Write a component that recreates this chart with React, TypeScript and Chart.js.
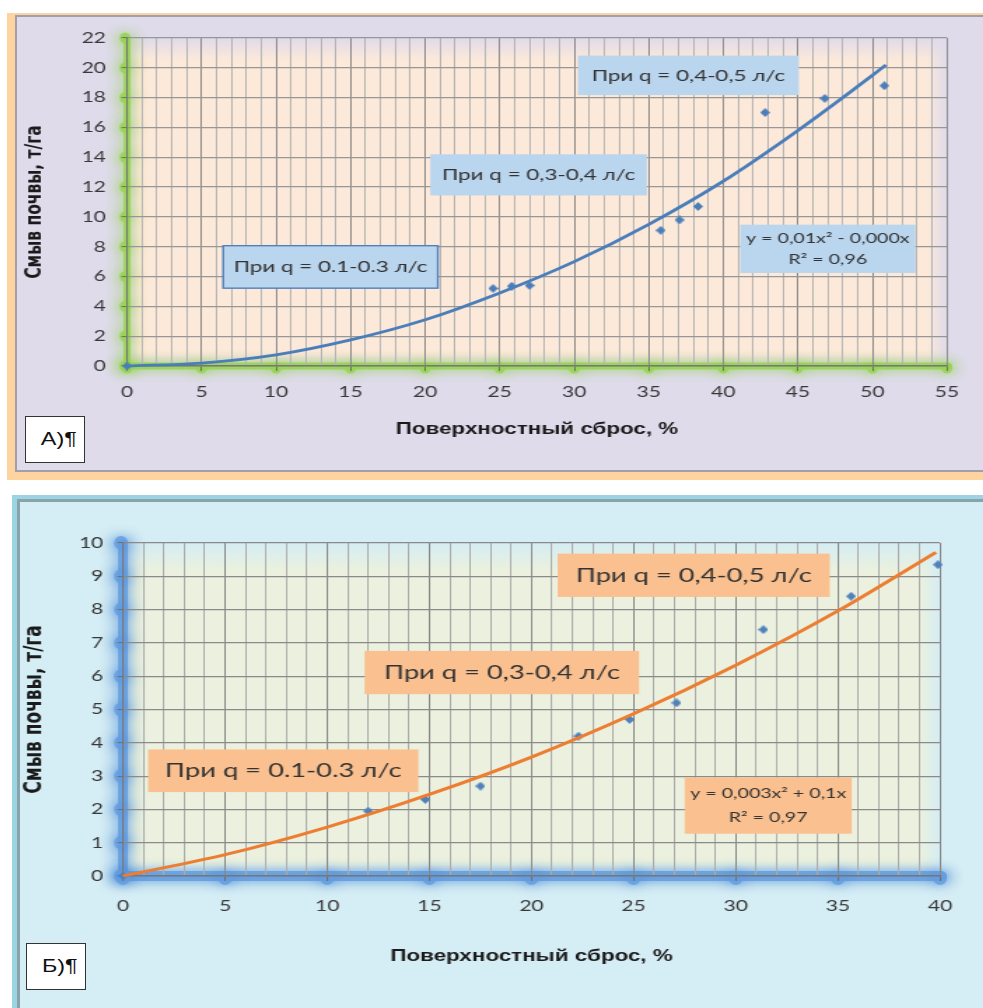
import React, { useEffect, useRef } from 'react';
import { Chart, registerables } from 'chart.js';

Chart.register(...registerables);

// horizontal stretch of the reference picture
const S = 1.4;

// ---------- Chart А (top) ----------
const A_POINTS_X = [0, 24.55, 25.8, 27.0, 35.8, 37.05, 38.3, 42.8, 46.8, 50.8];
const A_POINTS_Y = [0, 5.2, 5.35, 5.4, 9.1, 9.8, 10.7, 17.0, 17.95, 18.8];
const A_TREND_X = [0, 5, 10, 15, 20, 25, 30, 35, 40, 45, 50, 50.9];
const A_TREND_Y = [0, 0.2, 0.75, 1.75, 3.1, 4.9, 7.0, 9.5, 12.4, 15.8, 19.5, 20.2];
const A_X_LABELS = ['0', '5', '10', '15', '20', '25', '30', '35', '40', '45', '50', '55'];
const A_Y_LABELS = ['0', '2', '4', '6', '8', '10', '12', '14', '16', '18', '20', '22'];
const A_NOTES = ['При q = 0.1-0.3 л/с', 'При q = 0,3-0,4 л/с', 'При q = 0,4-0,5 л/с'];
const A_EQUATION = ['y = 0,01x² - 0,000x', 'R² = 0,96'];

// ---------- Chart Б (bottom) ----------
const B_POINTS_X = [0, 12.0, 14.8, 17.5, 22.3, 24.8, 27.1, 31.35, 35.65, 39.9];
const B_POINTS_Y = [0, 1.95, 2.3, 2.7, 4.2, 4.7, 5.2, 7.4, 8.4, 9.35];
const B_TREND_X = [0, 5, 10, 15, 20, 25, 30, 35, 39.8];
const B_TREND_Y = [0, 0.64, 1.47, 2.45, 3.57, 4.87, 6.33, 7.96, 9.72];
const B_X_LABELS = ['0', '5', '10', '15', '20', '25', '30', '35', '40'];
const B_Y_LABELS = ['0', '1', '2', '3', '4', '5', '6', '7', '8', '9', '10'];
const B_NOTES = ['При q = 0.1-0.3 л/с', 'При q = 0,3-0,4 л/с', 'При q = 0,4-0,5 л/с'];
const B_EQUATION = ['y = 0,003x² + 0,1x', 'R² = 0,97'];

const X_TITLE = 'Поверхностный сброс, %';
const Y_TITLE = 'Смыв почвы, т/га';

type Note = {
  x1: number; x2: number; y1: number; y2: number;
  lines: string[]; size: number; gap: number; fill: string; stroke?: string;
};

type PanelCfg = {
  W: number; H: number; yW: number; xH: number; padR: number; padT: number;
  xMax: number; yMax: number; yStep: number; xMajor: number;
  xLabels: string[]; yLabels: string[];
  px: number[]; py: number[]; tx: number[]; ty: number[];
  trendColor: string; trendWidth: number; pointColor: string; trendOnTop: boolean;
  plotColor: string; bg: string; fades: [number, number, number, number];
  glow: string; glowCore: string; glowW: number; glowBlur: number; blobR: number;
  gridMajor: string; gridMinor: string; gridH: string;
  tickSize: number; yTickPad: number; xTickPad: number; tickLenY: number; tickLenX: number;
  xTitleSize: number; xTitlePad: number; yTitleSize: number; yTitlePad: number;
  notes: Note[];
};

const TOP: PanelCfg = {
  W: 690, H: 453, yW: 110 / S, xH: 104, padR: 36 / S, padT: 21,
  xMax: 55, yMax: 22, yStep: 2, xMajor: 5,
  xLabels: A_X_LABELS, yLabels: A_Y_LABELS,
  px: A_POINTS_X, py: A_POINTS_Y, tx: A_TREND_X, ty: A_TREND_Y,
  trendColor: '#4a7ebb', trendWidth: 2.8, pointColor: '#4a7ebb', trendOnTop: false,
  plotColor: '#fde9d9', bg: '223,219,235', fades: [22, 20, 12, 14],
  glow: '#8ccf45', glowCore: 'rgba(150,212,80,0.85)', glowW: 7, glowBlur: 12, blobR: 5.5,
  gridMajor: '#8a8a8a', gridMinor: '#b4b4b4', gridH: '#979797',
  tickSize: 15, yTickPad: 11, xTickPad: 12, tickLenY: 4, tickLenX: 5,
  xTitleSize: 16, xTitlePad: 30.4, yTitleSize: 15.5, yTitlePad: 3.9,
  notes: [
    { x1: 6.45, x2: 20.85, y1: 8.07, y2: 5.22, lines: [A_NOTES[0]], size: 16, gap: 0, fill: '#bad5ee', stroke: '#4f81bd' },
    { x1: 20.34, x2: 34.87, y1: 14.2, y2: 11.44, lines: [A_NOTES[1]], size: 16, gap: 0, fill: '#bad5ee' },
    { x1: 30.24, x2: 45.06, y1: 20.82, y2: 18.17, lines: [A_NOTES[2]], size: 16, gap: 0, fill: '#bad5ee' },
    { x1: 41.13, x2: 52.88, y1: 9.48, y2: 6.24, lines: A_EQUATION, size: 14, gap: 21, fill: '#bad5ee' },
  ],
};

const BOTTOM: PanelCfg = {
  W: 688, H: 506, yW: 103 / S, xH: 132, padR: 688 - 920 / S, padT: 41,
  xMax: 40, yMax: 10, yStep: 1, xMajor: 5,
  xLabels: B_X_LABELS, yLabels: B_Y_LABELS,
  px: B_POINTS_X, py: B_POINTS_Y, tx: B_TREND_X, ty: B_TREND_Y,
  trendColor: '#ed7d31', trendWidth: 3, pointColor: '#4f81bd', trendOnTop: true,
  plotColor: '#ebf1de', bg: '213,237,244', fades: [28, 20, 12, 14],
  glow: '#4a8ad6', glowCore: 'rgba(100,158,225,0.85)', glowW: 10, glowBlur: 12, blobR: 7,
  gridMajor: '#878787', gridMinor: '#ababab', gridH: '#8a8a8a',
  tickSize: 15, yTickPad: 10, xTickPad: 16, tickLenY: 4, tickLenX: 5,
  xTitleSize: 16, xTitlePad: 41.4, yTitleSize: 17, yTitlePad: 0.5,
  notes: [
    { x1: 1.23, x2: 14.46, y1: 3.8, y2: 2.52, lines: [B_NOTES[0]], size: 19.5, gap: 0, fill: '#fac090' },
    { x1: 11.83, x2: 25.27, y1: 6.76, y2: 5.46, lines: [B_NOTES[1]], size: 19.5, gap: 0, fill: '#fac090' },
    { x1: 21.28, x2: 34.6, y1: 9.68, y2: 8.38, lines: [B_NOTES[2]], size: 19.5, gap: 0, fill: '#fac090' },
    { x1: 27.5, x2: 35.68, y1: 2.96, y2: 1.27, lines: B_EQUATION, size: 14, gap: 24, fill: '#fac090' },
  ],
};

function makeDiamond(w: number, h: number, color: string) {
  const c = document.createElement('canvas');
  c.width = w;
  c.height = h;
  const g = c.getContext('2d')!;
  g.fillStyle = color;
  g.beginPath();
  g.moveTo(w / 2, 0);
  g.lineTo(w, h / 2);
  g.lineTo(w / 2, h);
  g.lineTo(0, h / 2);
  g.closePath();
  g.fill();
  return c;
}

function Panel({ cfg, left, top }: { cfg: PanelCfg; left: number; top: number }) {
  const ref = useRef<HTMLCanvasElement | null>(null);

  useEffect(() => {
    const canvas = ref.current;
    if (!canvas) return;
    const diamond = makeDiamond(7, 9, cfg.pointColor);

    const decor = {
      id: 'decor',
      beforeDraw(chart: any) {
        const { ctx, chartArea: a, scales } = chart;
        const w = a.right - a.left;
        const h = a.bottom - a.top;
        // plot background with soft edges
        ctx.save();
        ctx.fillStyle = cfg.plotColor;
        ctx.fillRect(a.left, a.top, w, h);
        const edge = (x0: number, y0: number, x1: number, y1: number, rx: number, ry: number, rw: number, rh: number) => {
          const g = ctx.createLinearGradient(x0, y0, x1, y1);
          g.addColorStop(0, `rgba(${cfg.bg},1)`);
          g.addColorStop(1, `rgba(${cfg.bg},0)`);
          ctx.fillStyle = g;
          ctx.fillRect(rx, ry, rw, rh);
        };
        const [fT, fR, fL, fB] = cfg.fades;
        edge(a.left, a.top, a.left, a.top + fT, a.left, a.top, w, fT);
        edge(a.right, a.top, a.right - fR / S, a.top, a.right - fR / S, a.top, fR / S, h);
        edge(a.left, a.top, a.left + fL / S, a.top, a.left, a.top, fL / S, h);
        edge(a.left, a.bottom, a.left, a.bottom - fB, a.left, a.bottom - fB, w, fB);
        ctx.restore();
        // glowing axes
        ctx.save();
        ctx.lineCap = 'round';
        ctx.strokeStyle = cfg.glowCore;
        ctx.shadowColor = cfg.glow;
        ctx.shadowBlur = cfg.glowBlur;
        ctx.lineWidth = cfg.glowW / S;
        ctx.beginPath();
        ctx.moveTo(a.left, a.top);
        ctx.lineTo(a.left, a.bottom);
        ctx.stroke();
        ctx.lineWidth = cfg.glowW;
        ctx.beginPath();
        ctx.moveTo(a.left, a.bottom);
        ctx.lineTo(a.right, a.bottom);
        ctx.stroke();
        ctx.fillStyle = cfg.glowCore;
        for (const t of scales.y.ticks) {
          const y = scales.y.getPixelForValue(t.value);
          ctx.beginPath();
          ctx.ellipse(a.left - 2 / S, y, cfg.blobR / S, cfg.blobR, 0, 0, Math.PI * 2);
          ctx.fill();
        }
        for (const t of scales.x.ticks) {
          if (t.value % cfg.xMajor !== 0) continue;
          const x = scales.x.getPixelForValue(t.value);
          ctx.beginPath();
          ctx.ellipse(x, a.bottom + 2, cfg.blobR / S, cfg.blobR, 0, 0, Math.PI * 2);
          ctx.fill();
        }
        ctx.restore();
      },
      beforeDatasetsDraw(chart: any) {
        const { ctx, scales } = chart;
        ctx.save();
        for (const n of cfg.notes) {
          const x1 = scales.x.getPixelForValue(n.x1);
          const x2 = scales.x.getPixelForValue(n.x2);
          const y1 = scales.y.getPixelForValue(n.y1);
          const y2 = scales.y.getPixelForValue(n.y2);
          ctx.fillStyle = n.fill;
          ctx.fillRect(x1, y1, x2 - x1, y2 - y1);
          if (n.stroke) {
            ctx.strokeStyle = n.stroke;
            ctx.lineWidth = 1.4;
            ctx.strokeRect(x1, y1, x2 - x1, y2 - y1);
          }
          ctx.fillStyle = '#333333';
          ctx.font = `${n.size}px Lato, "Noto Sans", sans-serif`;
          ctx.textAlign = 'center';
          ctx.textBaseline = 'middle';
          const cx = (x1 + x2) / 2;
          const cy = (y1 + y2) / 2;
          n.lines.forEach((line, i) => {
            ctx.fillText(line, cx, cy - ((n.lines.length - 1) * n.gap) / 2 + i * n.gap);
          });
        }
        ctx.restore();
      },
    };

    const pointsDs = {
      data: cfg.px.map((x, i) => ({ x, y: cfg.py[i] })),
      showLine: false,
      pointStyle: diamond,
      pointRadius: 5,
      pointHoverRadius: 5,
      clip: false,
    };
    const trendDs = {
      data: cfg.tx.map((x, i) => ({ x, y: cfg.ty[i] })),
      showLine: true,
      borderColor: cfg.trendColor,
      borderWidth: cfg.trendWidth,
      pointRadius: 0,
      pointHoverRadius: 0,
      cubicInterpolationMode: 'monotone',
      fill: false,
      clip: false,
    };
    const datasets = cfg.trendOnTop ? [trendDs, pointsDs] : [pointsDs, trendDs];

    const tickFont = { family: 'Lato, "Noto Sans", sans-serif', size: cfg.tickSize };

    const chart = new Chart(canvas, {
      type: 'scatter',
      data: { datasets: datasets as any },
      plugins: [decor],
      options: {
        responsive: false,
        animation: false,
        devicePixelRatio: 1,
        events: [],
        layout: { padding: { left: 0, right: cfg.padR, top: cfg.padT, bottom: 0 } },
        plugins: {
          legend: { display: false },
          tooltip: { enabled: false },
          title: { display: false },
        },
        scales: {
          x: {
            type: 'linear',
            position: 'bottom',
            min: 0,
            max: cfg.xMax,
            ticks: {
              stepSize: 1,
              autoSkip: false,
              maxRotation: 0,
              minRotation: 0,
              padding: cfg.xTickPad,
              color: '#383838',
              font: tickFont,
              callback: (v: any) => (Number(v) % cfg.xMajor === 0 ? cfg.xLabels[Number(v) / cfg.xMajor] : ''),
            },
            grid: {
              color: (c: any) => (c.tick && c.tick.value % cfg.xMajor === 0 ? cfg.gridMajor : cfg.gridMinor),
              lineWidth: 1,
              drawTicks: true,
              tickLength: cfg.tickLenX,
              tickWidth: 1,
              tickColor: (c: any) => (c.tick && c.tick.value % cfg.xMajor === 0 ? '#6e6e6e' : 'rgba(0,0,0,0)'),
            },
            border: { display: true, color: '#777777', width: 1.5 },
            title: {
              display: true,
              text: X_TITLE,
              color: '#1a1a1a',
              font: { family: '"Liberation Sans", Arial, sans-serif', size: cfg.xTitleSize, weight: 'bold' },
              padding: { top: 0, bottom: cfg.xTitlePad },
            },
            afterFit: (s: any) => {
              s.height = cfg.xH;
            },
          },
          y: {
            type: 'linear',
            position: 'left',
            min: 0,
            max: cfg.yMax,
            ticks: {
              stepSize: cfg.yStep,
              autoSkip: false,
              padding: cfg.yTickPad,
              color: '#383838',
              font: tickFont,
              callback: (v: any) => cfg.yLabels[Math.round(Number(v) / cfg.yStep)] ?? '',
            },
            grid: {
              color: cfg.gridH,
              lineWidth: 1.2,
              drawTicks: true,
              tickLength: cfg.tickLenY,
              tickWidth: 1,
              tickColor: '#6e6e6e',
            },
            border: { display: true, color: '#777777', width: 1.1 },
            title: {
              display: true,
              text: Y_TITLE,
              color: '#1a1a1a',
              font: { family: '"DejaVu Sans", sans-serif', size: cfg.yTitleSize, weight: 'bold' },
              padding: { top: cfg.yTitlePad, bottom: 0 },
            },
            afterFit: (s: any) => {
              s.width = cfg.yW;
            },
          },
        },
      } as any,
    });

    return () => {
      chart.destroy();
    };
  }, [cfg]);

  return (
    <div
      style={{
        position: 'absolute',
        left,
        top,
        width: cfg.W,
        height: cfg.H,
        transform: `scaleX(${S})`,
        transformOrigin: '0 0',
      }}
    >
      <canvas ref={ref} width={cfg.W} height={cfg.H} style={{ display: 'block', width: cfg.W, height: cfg.H }} />
    </div>
  );
}

function Tag({ text, left, top }: { text: string; left: number; top: number }) {
  return (
    <div
      style={{
        position: 'absolute',
        left,
        top,
        width: 60,
        height: 47,
        boxSizing: 'border-box',
        background: '#ffffff',
        border: '1px solid #333333',
        display: 'flex',
        alignItems: 'center',
        justifyContent: 'center',
        paddingLeft: 8,
      }}
    >
      <span
        style={{
          display: 'inline-block',
          font: '18px "Liberation Sans", Arial, sans-serif',
          color: '#111',
          transform: 'scaleX(1.3)',
        }}
      >
        {text}
      </span>
    </div>
  );
}

export default function App() {
  return (
    <div
      style={{
        position: 'absolute',
        left: 0,
        top: 0,
        width: 983,
        height: 1008,
        overflow: 'hidden',
        background: '#ffffff',
      }}
    >
      {/* top frame */}
      <div style={{ position: 'absolute', left: 7, top: 13, width: 1000, height: 467, background: '#fdd39f' }} />
      <div
        style={{
          position: 'absolute',
          left: 15,
          top: 15,
          width: 1000,
          height: 457,
          boxSizing: 'border-box',
          background: 'rgb(223,219,235)',
          border: '2px solid #a19fa9',
        }}
      />
      <Panel cfg={TOP} left={17} top={17} />
      <Tag text="А)¶" left={25} top={416} />

      {/* bottom frame */}
      <div style={{ position: 'absolute', left: 12, top: 495, width: 1000, height: 600, background: '#9bd5e3' }} />
      <div
        style={{
          position: 'absolute',
          left: 17,
          top: 499,
          width: 1000,
          height: 600,
          boxSizing: 'border-box',
          background: 'rgb(213,237,244)',
          border: '3px solid #8aa2a9',
        }}
      />
      <Panel cfg={BOTTOM} left={20} top={502} />
      <Tag text="Б)¶" left={26} top={943} />
    </div>
  );
}
